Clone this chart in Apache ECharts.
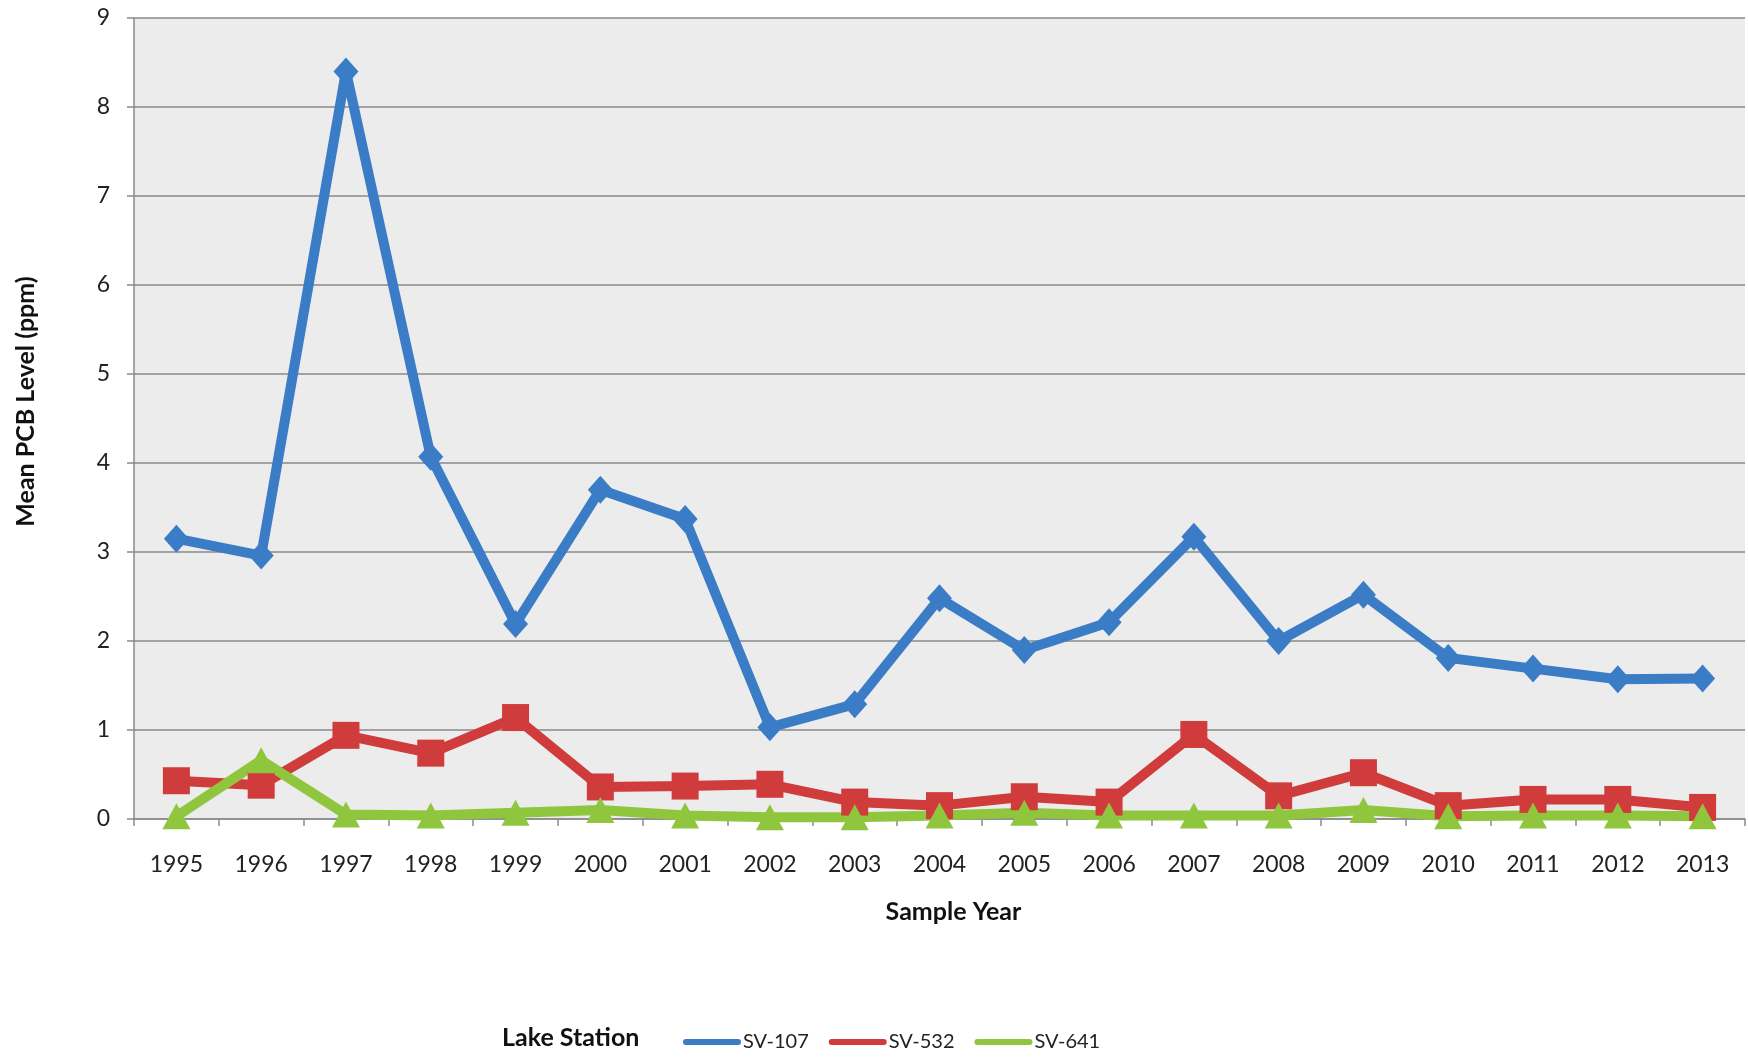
<!DOCTYPE html>
<html>
<head>
<meta charset="utf-8">
<title>Mean PCB Level by Lake Station</title>
<script src="https://cdn.jsdelivr.net/npm/echarts@6/dist/echarts.min.js"></script>
<style>
  html, body { margin: 0; padding: 0; background: #ffffff; }
  #chart { width: 1748px; height: 1058px; }
</style>
</head>
<body>
<div id="chart"></div>
<script>
// Sample years on the category axis
const years = ['1995','1996','1997','1998','1999','2000','2001','2002','2003','2004',
               '2005','2006','2007','2008','2009','2010','2011','2012','2013'];

// Mean PCB level (ppm) per lake station
const sv107 = [3.15, 2.96, 8.40, 4.07, 2.19, 3.70, 3.37, 1.03, 1.29, 2.48,
               1.90, 2.21, 3.17, 2.00, 2.52, 1.81, 1.69, 1.57, 1.58];
const sv532 = [0.43, 0.38, 0.94, 0.74, 1.14, 0.36, 0.37, 0.39, 0.19, 0.15,
               0.25, 0.19, 0.95, 0.26, 0.52, 0.15, 0.22, 0.22, 0.13];
const sv641 = [0.03, 0.66, 0.05, 0.04, 0.07, 0.10, 0.04, 0.02, 0.02, 0.04,
               0.07, 0.04, 0.04, 0.04, 0.10, 0.03, 0.04, 0.04, 0.03];

// Y axis ticks
const yMin = 0, yMax = 9, yStep = 1;

const FONT = 'Lato, "Noto Sans", sans-serif';
const BLUE = '#3b7cc6', RED = '#d03c3c', GREEN = '#8fc63e';

const chart = echarts.init(document.getElementById('chart'), null, { renderer: 'canvas' });

function lineSeries(name, data, color, symbol, size) {
  return {
    name: name,
    type: 'line',
    data: data,
    symbol: symbol,
    symbolSize: size,
    showAllSymbol: true,
    lineStyle: { color: color, width: 10, join: 'round', cap: 'round' },
    itemStyle: { color: color, borderWidth: 0 },
    emphasis: { disabled: true },
    animation: false
  };
}

// rounded bar used as the legend swatch
const capsule = 'path://M5,0 L95,0 A5,5 0 0 1 95,10 L5,10 A5,5 0 0 1 5,0 Z';

chart.setOption({
  backgroundColor: '#ffffff',
  animation: false,
  title: {
    text: 'Lake Station',
    left: 502,
    top: 1025,
    padding: 0,
    textStyle: { fontFamily: FONT, fontSize: 25, fontWeight: 'bold', color: '#111' }
  },
  legend: {
    left: 683,
    top: 1032,
    padding: 0,
    itemWidth: 58,
    itemHeight: 10,
    itemGap: 20,
    selectedMode: false,
    data: [
      { name: 'SV-107', icon: capsule },
      { name: 'SV-532', icon: capsule },
      { name: 'SV-641', icon: capsule }
    ],
    textStyle: { fontFamily: FONT, fontSize: 20, color: '#222', padding: [0, 0, 0, -3] }
  },
  grid: {
    left: 134,
    right: 3,
    top: 18,
    bottom: 239,
    show: true,
    backgroundColor: '#ececec',
    borderWidth: 0
  },
  xAxis: {
    type: 'category',
    data: years,
    boundaryGap: true,
    name: 'Sample Year',
    nameLocation: 'middle',
    nameGap: 80,
    nameTextStyle: { fontFamily: FONT, fontSize: 25, fontWeight: 'bold', color: '#111', padding: [0, 0, 0, 28] },
    axisLine: { show: true, lineStyle: { color: '#8a8a8a', width: 1.5 } },
    axisTick: { show: true, alignWithLabel: false, inside: false, length: 7, lineStyle: { color: '#8a8a8a', width: 1.5 } },
    axisLabel: { fontFamily: FONT, fontSize: 23, color: '#222', margin: 34 },
    splitLine: { show: false }
  },
  yAxis: {
    type: 'value',
    min: yMin,
    max: yMax,
    interval: yStep,
    name: 'Mean PCB Level (ppm)',
    nameLocation: 'middle',
    nameGap: 96,
    nameRotate: 90,
    nameTextStyle: { fontFamily: FONT, fontSize: 25, fontWeight: 'bold', color: '#111', padding: [0, 0, 0, 34] },
    axisLine: { show: true, lineStyle: { color: '#8a8a8a', width: 1.5 } },
    axisTick: { show: true, inside: false, length: 7, lineStyle: { color: '#8a8a8a', width: 1.5 } },
    axisLabel: { fontFamily: FONT, fontSize: 23, color: '#222', margin: 24 },
    splitLine: { show: true, lineStyle: { color: '#8a8a8a', width: 1.5 } }
  },
  series: [
    lineSeries('SV-107', sv107, BLUE, 'diamond', [25, 28]),
    lineSeries('SV-532', sv532, RED, 'rect', [27, 27]),
    lineSeries('SV-641', sv641, GREEN, 'triangle', [28, 26])
  ]
});
</script>
</body>
</html>
